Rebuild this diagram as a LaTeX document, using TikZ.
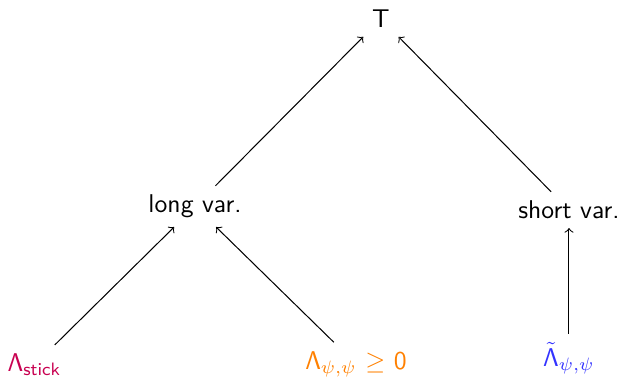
\documentclass[tikz,border=0pt]{standalone}
\usepackage{amsmath}
\usepackage{tikz}
\usetikzlibrary{positioning}

\definecolor{stickred}{RGB}{200,0,80}
\definecolor{psiorange}{RGB}{255,128,0}
\definecolor{tildeblue}{RGB}{51,51,255}

\tikzset{
  lbl/.style={font=\sffamily,text=black,anchor=center},
  up/.style={->,black,thin}
}

\begin{document}
\begin{tikzpicture}
\useasboundingbox (0,0) rectangle (8.54,5.2);
\node[lbl] (T) at (5.214, 4.941) {T};
\node[lbl] (long) at (2.669, 2.375) {long var.};
\node[lbl] (short) at (7.787, 2.327) {short var.};

\node[lbl,text=stickred] (stick) at (0.472, 0.205) {Λ$_{\textsf{stick}}$};
\node[lbl,text=psiorange] (psi) at (4.872, 0.219) {Λ$_{\psi,\psi}$ $\geq$ 0};
\node[lbl,text=tildeblue] (tilde) at (7.787, 0.297) {$\tilde{\textsf{Λ}}_{\psi,\psi}$};

\draw[up] (long) -- (T);
\draw[up] (short) -- (T);
\draw[up] (stick) -- (long);
\draw[up] (psi) -- (long);
\draw[up] (tilde) -- (short);
\end{tikzpicture}
\end{document}
